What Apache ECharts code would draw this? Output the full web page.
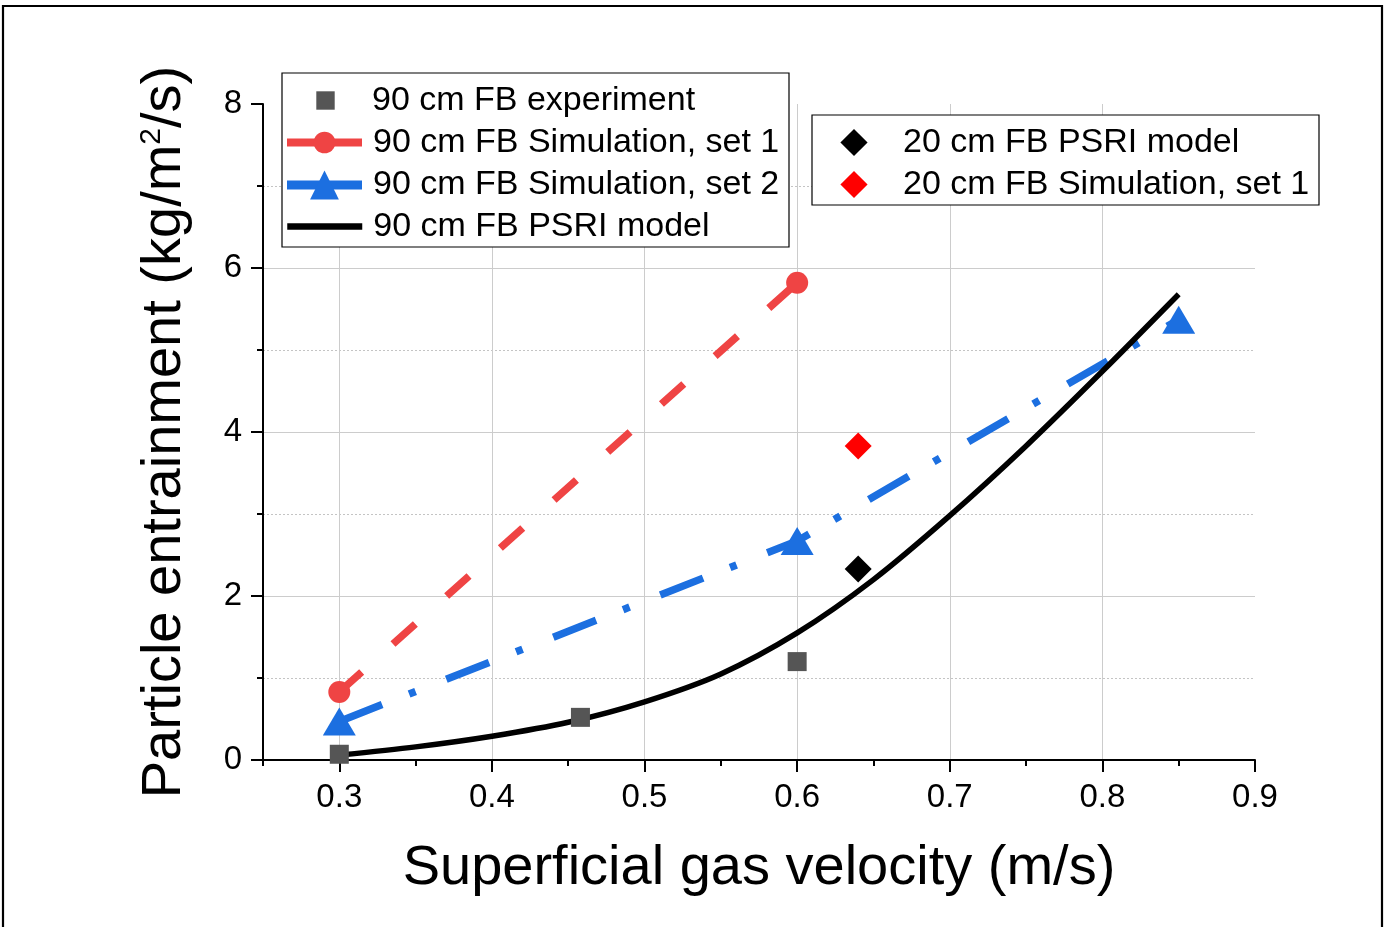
<!DOCTYPE html>
<html>
<head>
<meta charset="utf-8">
<script src="https://cdn.jsdelivr.net/npm/echarts@6/dist/echarts.min.js"></script>
<style>html,body{margin:0;padding:0;background:#fff}#chart{width:1392px;height:927px}</style>
</head>
<body>
<div id="chart"></div>
<script>
// ---- data ----
const xExp = [0.3, 0.458, 0.6];
const yExp = [0.07, 0.52, 1.2];

const xSim1 = [0.3, 0.6];
const ySim1 = [0.83, 5.82];

const xSim2 = [0.3, 0.6, 0.85];
const ySim2 = [0.47, 2.67, 5.37];

const xPsri = [0.30, 0.35, 0.40, 0.45, 0.50, 0.55, 0.60, 0.65, 0.70, 0.75, 0.80, 0.85];
const yPsri = [0.06, 0.16, 0.29, 0.46, 0.71, 1.05, 1.55, 2.20, 2.98, 3.83, 4.74, 5.68];

const x20 = [0.64];
const yPsri20 = [2.33];
const ySim20 = [3.83];

const xTickLabels = [0.3, 0.4, 0.5, 0.6, 0.7, 0.8, 0.9];
const xMinorTicks = [0.25, 0.35, 0.45, 0.55, 0.65, 0.75, 0.85];

const names = {
  exp: '90 cm FB experiment',
  sim1: '90 cm FB Simulation, set 1',
  sim2: '90 cm FB Simulation, set 2',
  psri: '90 cm FB PSRI model',
  psri20: '20 cm FB PSRI model',
  sim20: '20 cm FB Simulation, set 1'
};

// ---- build ----
const FONT = '"Liberation Sans", Arial, Helvetica, sans-serif';
const pairs = (xs, ys) => xs.map((x, i) => [x, ys[i]]);

const RED = '#ef4444';
const BLUE = '#1c6fe0';
const GRAY = '#555555';
const GRID = '#cccccc';

function mkLegend(name, left, centerY, itemWidth, itemHeight, lineStyle, itemStyle, pad) {
  const item = { name: name };
  if (lineStyle) item.lineStyle = lineStyle;
  if (itemStyle) item.itemStyle = itemStyle;
  return {
    data: [item],
    left: left,
    top: centerY - Math.max(itemHeight / 2, 17),
    orient: 'vertical',
    padding: 0,
    itemWidth: itemWidth,
    itemHeight: itemHeight,
    selectedMode: false,
    z: 6,
    textStyle: { fontFamily: FONT, fontSize: 34, color: '#000', lineHeight: 34, padding: [0, 0, 0, pad] }
  };
}

const chart = echarts.init(document.getElementById('chart'), null, { renderer: 'canvas' });

const option = {
  animation: false,
  backgroundColor: '#ffffff',
  textStyle: { fontFamily: FONT },
  grid: { left: 263, top: 104, right: 137, bottom: 167, containLabel: false },
  graphic: [
    { type: 'rect', z: 0, silent: true, shape: { x: 3, y: 6, width: 1379, height: 1000 },
      style: { fill: 'none', stroke: '#000', lineWidth: 2.2 } },
    { type: 'rect', z: 3, silent: true, shape: { x: 282, y: 73, width: 507, height: 174 },
      style: { fill: '#fff', stroke: '#000', lineWidth: 1.2 } },
    { type: 'rect', z: 3, silent: true, shape: { x: 812, y: 115, width: 507, height: 90 },
      style: { fill: '#fff', stroke: '#000', lineWidth: 1.2 } }
  ],
  legend: [
    mkLegend(names.exp, 287, 100.5, 75, 23, { opacity: 0 }, null, 4),
    mkLegend(names.sim1, 283, 142.5, 75, 27, { type: 'solid', width: 8 }, null, 6),
    mkLegend(names.sim2, 282.5, 186, 75, 36, { type: 'solid', width: 9 }, null, 6),
    mkLegend(names.psri, 284, 226.5, 75, 30, { type: 'solid', width: 6.5 }, { opacity: 0 }, 6),
    mkLegend(names.psri20, 816, 142.5, 74, 34, { opacity: 0 }, null, 7),
    mkLegend(names.sim20, 816, 184.5, 74, 34, { opacity: 0 }, null, 7)
  ],
  xAxis: [
    {
      type: 'value', min: 0.25, max: 0.9, interval: 0.05, position: 'bottom',
      axisLine: { show: true, onZero: false, lineStyle: { color: '#000', width: 2 } },
      axisTick: { show: true, length: 12, customValues: xTickLabels, lineStyle: { color: '#000', width: 2 } },
      axisLabel: { show: true, customValues: xTickLabels, formatter: v => v.toFixed(1),
        fontSize: 33, lineHeight: 33, color: '#000', margin: 21, fontFamily: FONT },
      splitLine: { show: true, lineStyle: { color: [GRID, GRID, GRID, GRID, GRID, GRID, 'rgba(0,0,0,0)'], width: 1 } },
      name: 'Superficial gas velocity (m/s)', nameLocation: 'middle', nameGap: 81,
      nameTextStyle: { fontSize: 56, lineHeight: 56, color: '#000', fontFamily: FONT }
    },
    {
      type: 'value', min: 0.25, max: 0.9, interval: 0.05, position: 'bottom', offset: 0,
      axisLine: { show: false, onZero: false },
      axisTick: { show: true, length: 6, customValues: xMinorTicks, lineStyle: { color: '#000', width: 2 } },
      axisLabel: { show: false },
      splitLine: { show: false }
    }
  ],
  yAxis: {
    type: 'value', min: 0, max: 8, interval: 2,
    axisLine: { show: true, lineStyle: { color: '#000', width: 2 } },
    axisTick: { show: true, length: 12, lineStyle: { color: '#000', width: 2 } },
    minorTick: { show: true, splitNumber: 2, length: 6, lineStyle: { color: '#000', width: 2 } },
    splitLine: { show: true, lineStyle: { color: [GRID, GRID, GRID, GRID, 'rgba(0,0,0,0)'], width: 1 } },
    minorSplitLine: { show: true, lineStyle: { color: '#c4c4c4', type: [2, 2], width: 1 } },
    axisLabel: { fontSize: 33, lineHeight: 33, color: '#000', margin: 21, fontFamily: FONT },
    name: 'Particle entrainment (kg/m{sup|2}/s)',
    nameLocation: 'middle', nameGap: 70,
    nameTextStyle: {
      fontSize: 56, lineHeight: 56, color: '#000', fontFamily: FONT,
      rich: { sup: { fontSize: 30, lineHeight: 30, verticalAlign: 'top', color: '#000', fontFamily: FONT } }
    }
  },
  series: [
    {
      name: names.exp, type: 'line', xAxisIndex: 0, data: pairs(xExp, yExp),
      symbol: 'rect', symbolSize: 19, showSymbol: true,
      lineStyle: { opacity: 0 }, itemStyle: { color: GRAY }, emphasis: { disabled: true }
    },
    {
      name: names.sim1, type: 'line', xAxisIndex: 0, data: pairs(xSim1, ySim1),
      symbol: 'circle', symbolSize: 22, showSymbol: true,
      lineStyle: { color: RED, width: 7.5, type: [30, 42] }, itemStyle: { color: RED }, emphasis: { disabled: true }
    },
    {
      name: names.sim2, type: 'line', xAxisIndex: 0, data: pairs(xSim2, ySim2),
      symbol: 'triangle', symbolSize: [33, 28], showSymbol: true,
      lineStyle: { color: BLUE, width: 7.5, type: [46, 29, 7, 33] }, itemStyle: { color: BLUE }, emphasis: { disabled: true }
    },
    {
      name: names.psri, type: 'line', xAxisIndex: 0, data: pairs(xPsri, yPsri),
      symbol: 'none', smooth: 0.3,
      lineStyle: { color: '#000', width: 5.5 }, itemStyle: { color: '#000' }, emphasis: { disabled: true }
    },
    {
      name: names.psri20, type: 'line', xAxisIndex: 0, data: pairs(x20, yPsri20),
      symbol: 'diamond', symbolSize: 27, showSymbol: true,
      lineStyle: { opacity: 0 }, itemStyle: { color: '#000' }, emphasis: { disabled: true }
    },
    {
      name: names.sim20, type: 'line', xAxisIndex: 0, data: pairs(x20, ySim20),
      symbol: 'diamond', symbolSize: 27, showSymbol: true,
      lineStyle: { opacity: 0 }, itemStyle: { color: '#ff0000' }, emphasis: { disabled: true }
    }
  ]
};

chart.setOption(option);
</script>
</body>
</html>
